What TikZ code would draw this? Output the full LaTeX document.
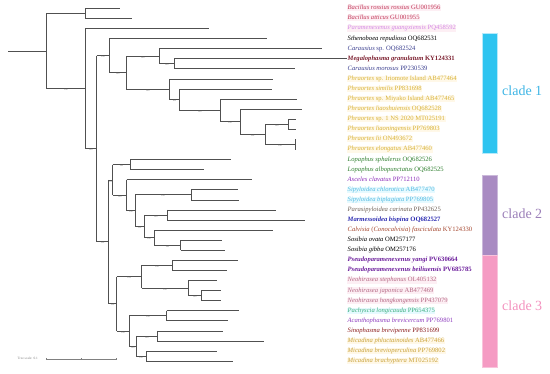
\documentclass[tikz,border=0pt]{standalone}
\usepackage{fontspec}
\setmainfont{Liberation Serif}
\usetikzlibrary{calc}
\definecolor{crim}{HTML}{C23B5A}
\definecolor{lilac}{HTML}{D48BE6}
\definecolor{navy}{HTML}{3B3F8F}
\definecolor{maroon}{HTML}{7B1E2E}
\definecolor{gold}{HTML}{D8B43C}
\definecolor{lgreen}{HTML}{2F7F2F}
\definecolor{purp}{HTML}{8A2BB8}
\definecolor{sky}{HTML}{55B9E0}
\definecolor{taupe}{HTML}{6F6257}
\definecolor{mblue}{HTML}{2B2BB0}
\definecolor{rust}{HTML}{A4462E}
\definecolor{violet}{HTML}{6A1B9A}
\definecolor{rose}{HTML}{B56A86}
\definecolor{sgreen}{HTML}{3DAE7E}
\definecolor{purp2}{HTML}{8E3DBE}
\definecolor{dred}{HTML}{8B1C1C}
\definecolor{ochre}{HTML}{C9A23A}
\definecolor{hlpink}{HTML}{FDEFF4}
\definecolor{hlcream}{HTML}{FFF8E8}
\definecolor{hlcyan}{HTML}{E6FAFF}
\definecolor{branch}{HTML}{505050}
\definecolor{cl1}{HTML}{2EC4F0}
\definecolor{cl2}{HTML}{A98BC2}
\definecolor{cl3}{HTML}{F59BC3}
\definecolor{cl1t}{HTML}{3EB5E5}
\definecolor{cl2t}{HTML}{9B7FB8}
\definecolor{cl3t}{HTML}{F391BE}
\tikzset{
  leaflab/.style={anchor=west, inner ysep=0pt, inner xsep=0.5pt, text height=4.6pt, text depth=1.6pt, font=\fontsize{6.6}{7}\selectfont},
  br/.style={draw=branch, line width=0.6pt},
  bs/.style={midway, below=0.3pt, inner sep=0pt, text=gray!80!black, font=\fontsize{2.4}{2.4}\selectfont},
  cladebar/.style={line width=1pt},
  cladelab/.style={anchor=west, inner sep=0pt, font=\fontsize{14}{16}\selectfont},
}
\newcommand\phyleaf[5]{%
  \node[leaflab, #4] (#1) at (347pt, {-(8.3+10.08*(#2-1))*1pt}) {#5};
  \coordinate (#1t) at (#3pt, {-(8.3+10.08*(#2-1))*1pt});
}
\newcommand\phynode[6]{%
  \path let \p1=(#3), \p2=(#4) in coordinate (#1) at (#2pt, {0.5*(\y1+\y2)});
  \draw[br] (#1 |- #3) -- (#1 |- #4);
  \draw[br] (#1 |- #3) -- node[bs]{#5} (#3);
  \draw[br] (#1 |- #4) -- node[bs]{#6} (#4);
}
\begin{document}
\begin{tikzpicture}[x=1pt,y=1pt]
\useasboundingbox (0pt,0pt) rectangle (550pt,-373pt);
% leaves
\phyleaf{L1}{1}{120}{text=crim, fill=hlpink}{\textit{Bacillus rossius rossius} GU001956}
\phyleaf{L2}{2}{131.7}{text=crim, fill=hlpink}{\textit{Bacillus atticus} GU001955}
\phyleaf{L3}{3}{209.3}{text=lilac, fill=hlpink}{\textit{Paramenexenus guangxiensis} PQ458592}
\phyleaf{L4}{4}{266.7}{text=black}{\textit{Sthenoboea repudiosa} OQ682531}
\phyleaf{L5}{5}{321.7}{text=navy}{\textit{Carausius} sp. OQ682524}
\phyleaf{L6}{6}{346.5}{text=maroon, font=\fontsize{6.6}{7}\selectfont\bfseries}{\textit{Megalophasma granulatum} KY124331}
\phyleaf{L7}{7}{295}{text=navy}{\textit{Carausius morosus} PP230539}
\phyleaf{L8}{8}{273.3}{text=gold, fill=hlcream}{\textit{Phraortes} sp. Iriomote Island AB477464}
\phyleaf{L9}{9}{271.7}{text=gold, fill=hlcream}{\textit{Phraortes similis} PP831698}
\phyleaf{L10}{10}{297.3}{text=gold, fill=hlcream}{\textit{Phraortes} sp. Miyako Island AB477465}
\phyleaf{L11}{11}{301.7}{text=gold, fill=hlcream}{\textit{Phraortes liaoshuiensis} OQ682528}
\phyleaf{L12}{12}{296}{text=gold, fill=hlcream}{\textit{Phraortes} sp. 1 NS 2020 MT025191}
\phyleaf{L13}{13}{296}{text=gold, fill=hlcream}{\textit{Phraortes liaoningensis} PP769803}
\phyleaf{L14}{14}{296}{text=gold, fill=hlcream}{\textit{Phraortes lii} ON493672}
\phyleaf{L15}{15}{296}{text=gold, fill=hlcream}{\textit{Phraortes elongatus} AB477460}
\phyleaf{L16}{16}{230.7}{text=lgreen}{\textit{Lopaphus sphalerus} OQ682526}
\phyleaf{L17}{17}{204.3}{text=lgreen}{\textit{Lopaphus albopunctatus} OQ682525}
\phyleaf{L18}{18}{251.7}{text=purp}{\textit{Asceles clavatus} PP712110}
\phyleaf{L19}{19}{238.3}{text=sky, fill=hlcyan}{\textit{Sipyloidea chlorotica} AB477470}
\phyleaf{L20}{20}{239.3}{text=sky, fill=hlcyan}{\textit{Sipyloidea biplagiata} PP769805}
\phyleaf{L21}{21}{275.7}{text=taupe}{\textit{Parasipyloidea carinata} PP432625}
\phyleaf{L22}{22}{305}{text=mblue, font=\fontsize{6.6}{7}\selectfont\bfseries}{\textit{Marmessoidea bispina} OQ682527}
\phyleaf{L23}{23}{272.7}{text=rust}{\textit{Calvisia} (\textit{Conocalvisia}) \textit{fasciculata} KY124330}
\phyleaf{L24}{24}{222.3}{text=black}{\textit{Sosibia ovata} OM257177}
\phyleaf{L25}{25}{225}{text=black}{\textit{Sosibia gibba} OM257176}
\phyleaf{L26}{26}{238.3}{text=violet, font=\fontsize{6.6}{7}\selectfont\bfseries}{\textit{Pseudoparamenexenus yangi} PV630664}
\phyleaf{L27}{27}{226.7}{text=violet, font=\fontsize{6.6}{7}\selectfont\bfseries}{\textit{Pseudoparamenexenus beiliuensis} PV685785}
\phyleaf{L28}{28}{216.7}{text=rose, fill=hlpink}{\textit{Neohirasea stephanus} OL405132}
\phyleaf{L29}{29}{220.5}{text=rose, fill=hlpink}{\textit{Neohirasea japonica} AB477469}
\phyleaf{L30}{30}{220.5}{text=rose, fill=hlpink}{\textit{Neohirasea hongkongensis} PP437079}
\phyleaf{L31}{31}{239}{text=sgreen, fill=hlcyan}{\textit{Pachyscia longicauda} PP654375}
\phyleaf{L32}{32}{227.5}{text=purp2}{\textit{Acanthophasma brevicercum} PP769801}
\phyleaf{L33}{33}{222.5}{text=dred}{\textit{Sinophasma brevipenne} PP831699}
\phyleaf{L34}{34}{264.2}{text=ochre, fill=hlcream}{\textit{Micadina phluctainoides} AB477466}
\phyleaf{L35}{35}{217}{text=ochre, fill=hlcream}{\textit{Micadina brevioperculina} PP769802}
\phyleaf{L36}{36}{232.7}{text=ochre, fill=hlcream}{\textit{Micadina brachyptera} MT025192}
% internal nodes (children first)
\phynode{B}{85}{L1t}{L2t}{}{}
\phynode{N13}{295}{L14t}{L15t}{}{}
\phynode{N12}{288.3}{L12t}{L13t}{}{}
\phynode{N11}{265}{N12}{N13}{100}{100}
\phynode{N10}{240}{L11t}{N11}{}{100}
\phynode{N9}{220}{L10t}{N10}{}{100}
\phynode{N8}{179.3}{L9t}{N9}{}{100}
\phynode{N7}{169.3}{L8t}{N8}{}{100}
\phynode{N6}{174}{L6t}{L7t}{}{}
\phynode{N5}{159.3}{L5t}{N6}{}{100}
\phynode{N4}{126}{N5}{N7}{100}{100}
\phynode{N3}{109.3}{L4t}{N4}{}{100}
\phynode{N22}{130}{L16t}{L17t}{}{}
\phynode{N25}{191}{L19t}{L20t}{}{}
\phynode{N27}{167.3}{L21t}{L22t}{}{}
\phynode{N29}{180.7}{L24t}{L25t}{}{}
\phynode{N28}{154}{L23t}{N29}{}{100}
\phynode{N26}{144}{N27}{N28}{100}{100}
\phynode{N24}{135}{N25}{N26}{100}{100}
\phynode{N23}{126.7}{L18t}{N24}{}{100}
\phynode{N21}{112.7}{N22}{N23}{100}{100}
\phynode{N32}{172.3}{L26t}{L27t}{}{}
\phynode{N34}{201}{L29t}{L30t}{}{}
\phynode{N33}{188.3}{L28t}{N34}{}{100}
\phynode{N31}{141.7}{N32}{N33}{100}{100}
\phynode{N36}{166.7}{L31t}{L32t}{}{}
\phynode{N38}{157.3}{L33t}{L34t}{}{}
\phynode{N39}{146}{L35t}{L36t}{}{}
\phynode{N37}{136}{N38}{N39}{100}{100}
\phynode{N35}{129.3}{N36}{N37}{100}{100}
\phynode{N30}{116.7}{N31}{N35}{100}{100}
\phynode{N20}{108.3}{N21}{N30}{100}{100}
\phynode{N2}{96.7}{N3}{N20}{100}{100}
\phynode{N1}{85}{L3t}{N2}{}{100}
\phynode{R}{46.7}{B}{N1}{}{100}
\coordinate (root) at (8.3pt,0 |- R);
\draw[br] (root) -- (R);
% scale bar
\coordinate (sb0) at (46pt,-359pt);
\coordinate (sb1) at (80.8pt,-359pt);
\coordinate (sb2) at (115.7pt,-359pt);
\draw[draw=gray, line width=0.4pt] (sb0) -- (sb2);
\draw[draw=gray, line width=0.3pt] ($(sb0)+(0,1pt)$) -- ($(sb0)+(0,-1pt)$)
  ($(sb1)+(0,1pt)$) -- ($(sb1)+(0,-1pt)$) ($(sb2)+(0,1pt)$) -- ($(sb2)+(0,-1pt)$);
\node[anchor=east, inner sep=0pt, text=gray, font=\fontsize{3.4}{4}\selectfont] (sbl) at (38pt,-358.5pt) {Tree scale: 0.1};
% clade bars
\node[cladebar, draw=cl1!35, fill=cl1, minimum width=15pt, minimum height=120pt, inner sep=0pt, anchor=north west] (c1) at (481.7pt,-33.3pt) {};
\node[cladebar, draw=cl2!60, fill=cl2, minimum width=15pt, minimum height=80pt, inner sep=0pt, anchor=north west] (c2) at (481.7pt,-175pt) {};
\node[cladebar, draw=cl3!60, fill=cl3, minimum width=15pt, minimum height=112pt, inner sep=0pt, anchor=north west] (c3) at (481.7pt,-255pt) {};
\node[cladelab, text=cl1t] (t1) at (502pt,-91pt) {clade 1};
\node[cladelab, text=cl2t] (t2) at (502pt,-214pt) {clade 2};
\node[cladelab, text=cl3t] (t3) at (502pt,-306pt) {clade 3};
\end{tikzpicture}
\end{document}
